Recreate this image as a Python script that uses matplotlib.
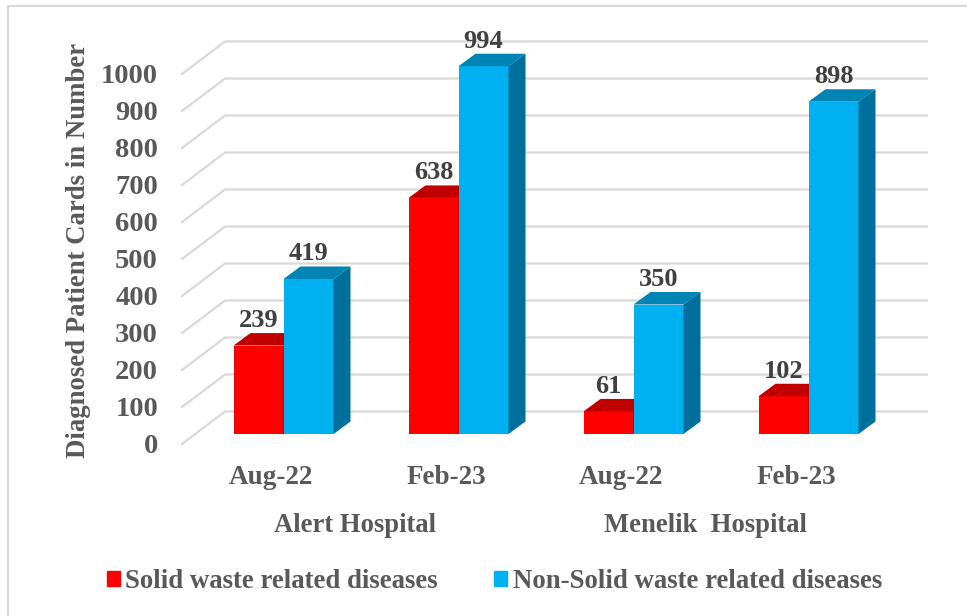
import numpy as np
import matplotlib
matplotlib.use('Agg')
import matplotlib.pyplot as plt
from matplotlib.patches import Polygon, Patch

plt.rcParams['font.family'] = ['Liberation Serif', 'DejaVu Serif']
plt.rcParams['font.weight'] = 'bold'

# Datos
periods = ['Aug-22', 'Feb-23', 'Aug-22', 'Feb-23']
hospitals = ['Alert Hospital', 'Menelik  Hospital']
solid = [239, 638, 61, 102]
non_solid = [419, 994, 350, 898]
y_ticks = [0, 100, 200, 300, 400, 500, 600, 700, 800, 900, 1000]
series_names = ['Solid waste related diseases', 'Non-Solid waste related diseases']

W, H = 967, 616
GROUP_PX = 175.0     # px per category
VAL_PX = 0.37        # px per unit
X0, Y0 = 283.5, 434  # pixel of category 0 / value 0


def px_x(p):
    return (p - X0) / GROUP_PX


def px_y(p):
    return (Y0 - p) / VAL_PX


fig = plt.figure(figsize=(W / 100, H / 100), dpi=100)
ax = fig.add_axes([0, 0, 1, 1])
ax.set_xlim(px_x(0), px_x(W))
ax.set_ylim(px_y(H), px_y(0))
ax.axis('off')

# marco exterior
ax.plot([px_x(8), px_x(8), px_x(W)], [px_y(H), px_y(5.5), px_y(5.5)], color='#d9d9d9', lw=1.5, zorder=1)

# rejilla en perspectiva
front_l, back_l, back_r = px_x(182), px_x(225), px_x(927)
front_off = -10 / VAL_PX
back_off = 22.5 / VAL_PX
for t in y_ticks:
    ax.plot([front_l, back_l, back_r], [t + front_off, t + back_off, t + back_off],
            color='#d9d9d9', lw=1.6, zorder=1, solid_joinstyle='miter')
    ax.text(px_x(158), t + front_off - 2.5 / VAL_PX, str(t), ha='right', va='center', fontsize=20.5, color='#595959')

width = 50 / GROUP_PX
dx = 17 / GROUP_PX
dy = 12.5 / VAL_PX
x = np.arange(len(periods))


def bars(xpos, vals, front, top, side, z):
    ax.bar(xpos, vals, width, color=front, align='edge', zorder=z)
    for xi, v in zip(xpos, vals):
        ax.add_patch(Polygon([(xi, v), (xi + width, v), (xi + width + dx, v + dy), (xi + dx, v + dy)],
                             color=top, lw=0, zorder=z))
        ax.add_patch(Polygon([(xi + width, 0), (xi + width + dx, dy), (xi + width + dx, v + dy), (xi + width, v)],
                             color=side, lw=0, zorder=z))


bars(x - width, solid, '#ff0000', '#c00000', '#990000', 3)
bars(x, non_solid, '#00b0f0', '#0084b4', '#006f9b', 4)

for xi, a, b in zip(x, solid, non_solid):
    ax.text(xi - width / 2, a + 25 / VAL_PX, str(a), ha='center', va='center', fontsize=19, color='#404040', zorder=6)
    ax.text(xi + width / 2, b + 25 / VAL_PX, str(b), ha='center', va='center', fontsize=19, color='#404040', zorder=6)

# etiquetas de categorias
for xi, lab in zip(x, periods):
    ax.text(xi - 12.5 / GROUP_PX, px_y(478), lab, ha='center', va='center', fontsize=19.5, color='#595959')
for c, lab in zip([0.5, 2.5], hospitals):
    ax.text(c - 16 / GROUP_PX, px_y(525), lab, ha='center', va='center', fontsize=19.2, color='#595959')

ax.text(px_x(79), px_y(250), 'Diagnosed Patient Cards in Number', rotation=90, ha='center', va='center',
        fontsize=19.3, color='#595959')

handles = [Patch(color='#ff0000'), Patch(color='#00b0f0')]
fig.legend(handles, series_names, loc='center', bbox_to_anchor=(494.5 / W, 1 - 581.5 / H), ncol=2, frameon=False,
           fontsize=19.3, labelcolor='#595959', handlelength=0.48, handleheight=0.48, handletextpad=0.22,
           columnspacing=2.1)

plt.savefig('out.png', dpi=100)
